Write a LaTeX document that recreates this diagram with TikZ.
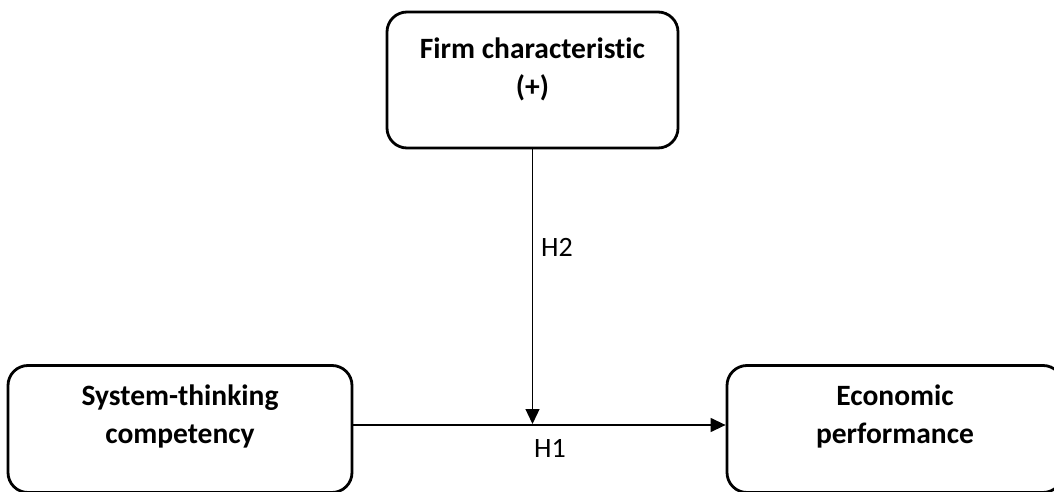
\documentclass[tikz,border=0pt]{standalone}
\usepackage{fontspec}
\setmainfont{Carlito}[Ligatures=NoCommon]
\usetikzlibrary{arrows.meta,positioning}
\begin{document}
\begin{tikzpicture}[x=1pt,y=-1pt,
  box/.style={draw,line width=2.8pt,rounded corners=20pt},
  lbl/.style={inner sep=0pt,align=center,font=\fontsize{29.5}{38}\selectfont\bfseries},
  hyp/.style={inner sep=0pt,font=\fontsize{28}{32}\selectfont},
  link/.style={line width=1.3pt,-{Triangle[length=15pt,width=14pt]}}]
  \useasboundingbox (0,0) rectangle (1054,492);
  \node[box,minimum width=291pt,minimum height=136pt] (F) at (532.5,80) {};
  \node[box,minimum width=344pt,minimum height=127pt] (S) at (180,429) {};
  \node[box,minimum width=336pt,minimum height=127pt] (E) at (895,429) {};
  \node[lbl,anchor=base] (Ft) at (532.5,97) {Firm characteristic\\(+)};
  \node[lbl,anchor=base] (St) at (180,443) {System-thinking\\competency};
  \node[lbl,anchor=base] (Et) at (895,443) {Economic\\performance};
  \coordinate (M) at (532.5,424);
  \draw[link] ([yshift=4pt]S.east) -- ([yshift=4pt]E.west);
  \draw[link] (F.south) -- (M);
  \node[hyp,anchor=base west] (H2) at (541,256) {H2};
  \node[hyp,anchor=base] (H1) at (550,457) {H1};
\end{tikzpicture}
\end{document}
